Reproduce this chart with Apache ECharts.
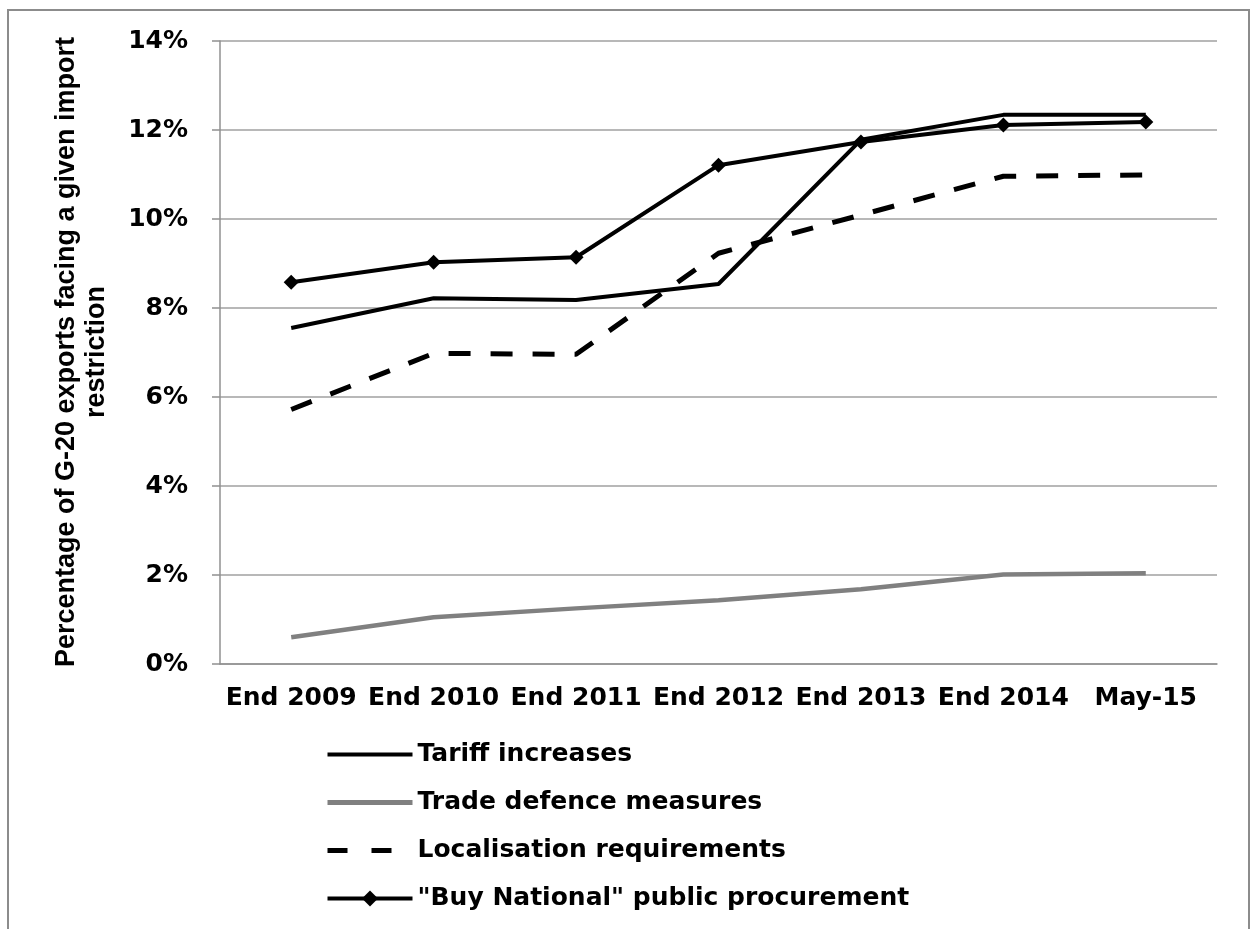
<!DOCTYPE html>
<html>
<head>
<meta charset="utf-8">
<script src="https://cdn.jsdelivr.net/npm/echarts@6/dist/echarts.min.js"></script>
<style>
  html, body { margin: 0; padding: 0; background: #fff; }
  #main { width: 1250px; height: 929px; }
</style>
</head>
<body>
<div id="main"></div>
<script>
let categories = ['End 2009', 'End 2010', 'End 2011', 'End 2012', 'End 2013', 'End 2014', 'May-15'];
let tariff = [7.55, 8.22, 8.18, 8.54, 11.78, 12.34, 12.34];
let tradeDefence = [0.6, 1.05, 1.25, 1.43, 1.68, 2.01, 2.04];
let localisation = [5.72, 6.98, 6.96, 9.23, 10.09, 10.96, 10.99];
let buyNational = [8.58, 9.03, 9.14, 11.21, 11.73, 12.11, 12.18];
let yTicks = [0, 2, 4, 6, 8, 10, 12, 14];

let font = 'DejaVu Sans';
let chart = echarts.init(document.getElementById('main'));

// legend entries: hide the default marker on the plain lines
let noMarker = { opacity: 0 };

let option = {
  backgroundColor: '#fff',
  animation: false,
  grid: { left: 220, right: 33, top: 41, bottom: 265 },
  graphic: [
    {
      type: 'rect',
      shape: { x: 8, y: 10, width: 1241, height: 940 },
      style: { fill: 'none', stroke: '#8c8c8c', lineWidth: 2 }
    },
    {
      type: 'text',
      x: 82,
      y: 352,
      rotation: Math.PI / 2,
      style: {
        text: 'Percentage of G-20 exports facing a given import\nrestriction',
        font: 'bold 27px "Liberation Sans", Arial, sans-serif',
        fill: '#000',
        align: 'center',
        verticalAlign: 'middle',
        lineHeight: 30
      }
    }
  ],
  legend: {
    orient: 'vertical',
    left: 325,
    top: 742,
    padding: 0,
    itemWidth: 85,
    itemHeight: 20,
    itemGap: 23,
    textStyle: { fontFamily: font, fontWeight: 'bold', fontSize: 25, color: '#000', lineHeight: 24 },
    data: [
      { name: 'Tariff increases', itemStyle: noMarker, lineStyle: { width: 4, color: '#000' } },
      { name: 'Trade defence measures', itemStyle: noMarker, lineStyle: { width: 5, color: '#808080' } },
      { name: 'Localisation requirements', itemStyle: noMarker, lineStyle: { width: 5, color: '#000', type: [20, 24] } },
      { name: '"Buy National" public procurement', lineStyle: { width: 4, color: '#000' } }
    ]
  },
  xAxis: {
    type: 'category',
    data: categories,
    axisLine: { lineStyle: { color: '#909090', width: 1.5 } },
    axisTick: { length: 8, lineStyle: { color: '#909090', width: 1.5 } },
    axisLabel: { interval: 0, margin: 22, fontFamily: font, fontWeight: 'bold', fontSize: 25, color: '#000' }
  },
  yAxis: {
    type: 'value',
    min: yTicks[0],
    max: yTicks[yTicks.length - 1],
    interval: 2,
    axisLine: { show: true, lineStyle: { color: '#909090', width: 1.5 } },
    axisTick: { show: true, length: 8, lineStyle: { color: '#909090', width: 1.5 } },
    splitLine: { lineStyle: { color: '#a0a0a0', width: 1.5 } },
    axisLabel: {
      margin: 32, fontFamily: font, fontWeight: 'bold', fontSize: 25, color: '#000',
      formatter: function (v) { return v + '%'; }
    }
  },
  series: [
    {
      name: 'Tariff increases',
      type: 'line',
      data: tariff,
      symbol: 'none',
      itemStyle: { color: '#000' },
      lineStyle: { color: '#000', width: 4 }
    },
    {
      name: 'Trade defence measures',
      type: 'line',
      data: tradeDefence,
      symbol: 'none',
      itemStyle: { color: '#808080' },
      lineStyle: { color: '#808080', width: 4.5 }
    },
    {
      name: 'Localisation requirements',
      type: 'line',
      data: localisation,
      symbol: 'none',
      itemStyle: { color: '#000' },
      lineStyle: { color: '#000', width: 5, type: [22, 20] }
    },
    {
      name: '"Buy National" public procurement',
      type: 'line',
      data: buyNational,
      symbol: 'diamond',
      symbolSize: 15,
      itemStyle: { color: '#000' },
      lineStyle: { color: '#000', width: 4 }
    }
  ]
};

chart.setOption(option);
</script>
</body>
</html>
